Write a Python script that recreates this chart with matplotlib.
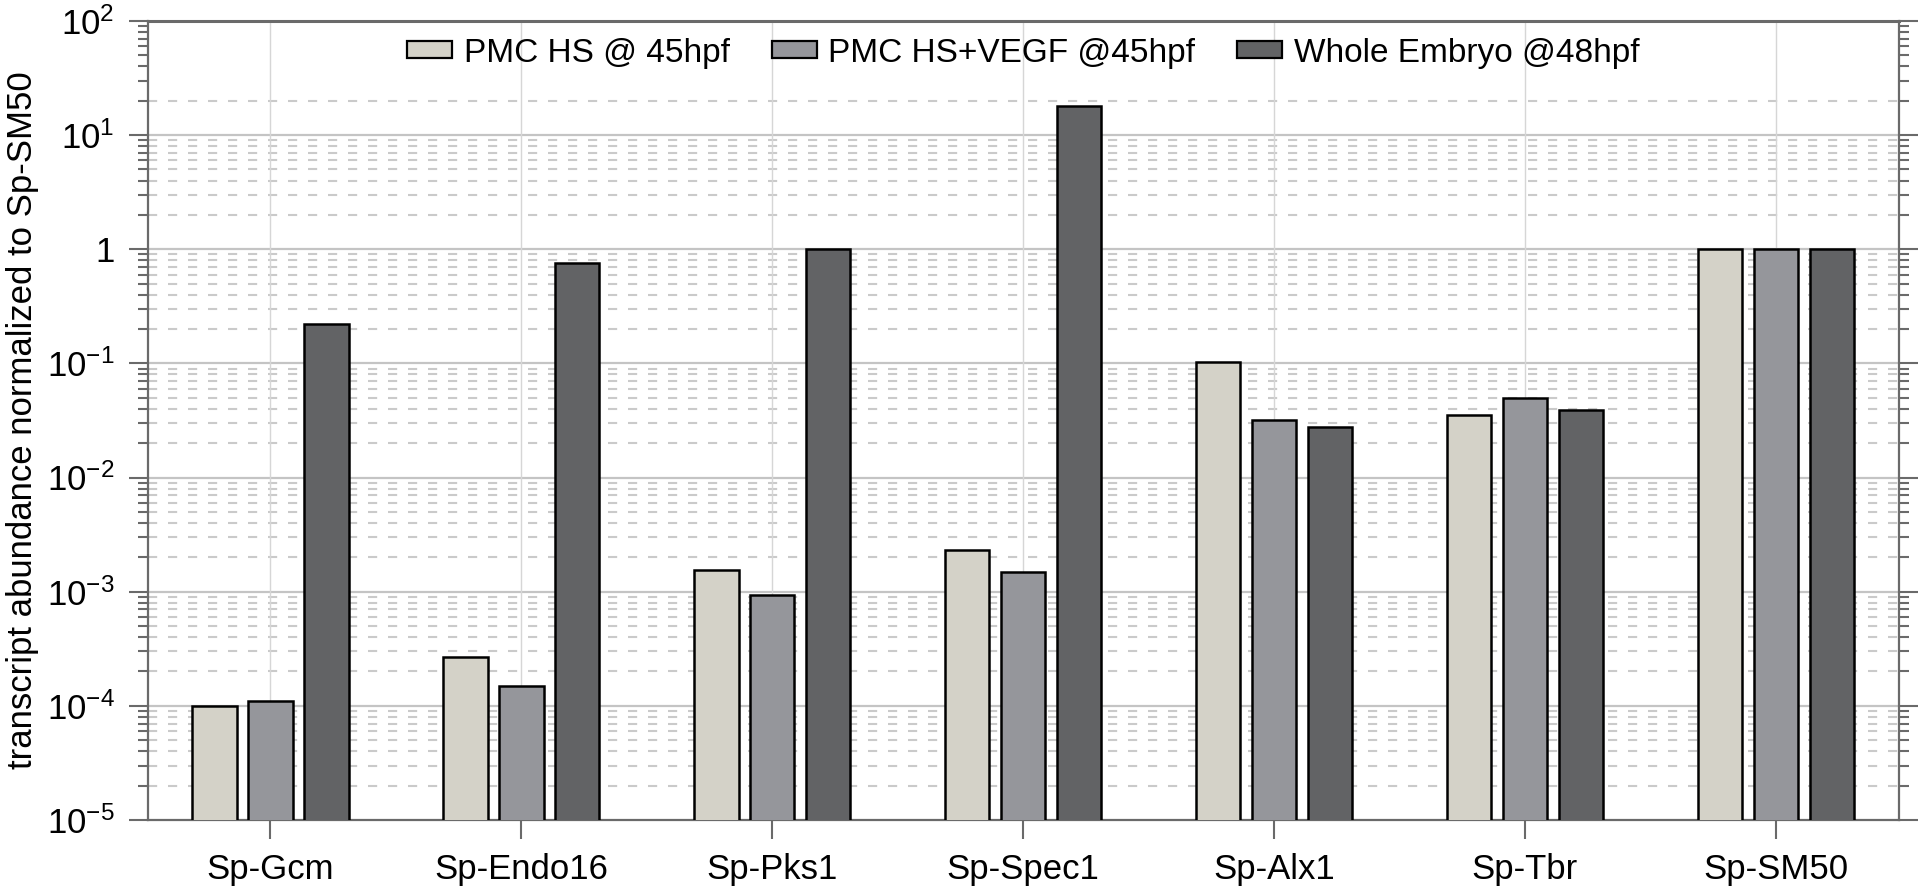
import numpy as np
import matplotlib.pyplot as plt
from matplotlib.patches import Patch
from matplotlib.ticker import LogLocator, NullFormatter

plt.rcParams['font.family'] = ['Liberation Sans', 'DejaVu Sans']
plt.rcParams['mathtext.fontset'] = 'custom'
plt.rcParams['mathtext.rm'] = 'Liberation Sans'
plt.rcParams['mathtext.it'] = 'Liberation Sans:italic'
plt.rcParams['mathtext.bf'] = 'Liberation Sans:bold'

# data
genes = ['Sp-Gcm', 'Sp-Endo16', 'Sp-Pks1', 'Sp-Spec1', 'Sp-Alx1', 'Sp-Tbr', 'Sp-SM50']
pmc_hs = [1.0e-4, 2.7e-4, 1.56e-3, 2.3e-3, 0.102, 0.035, 1.0]
pmc_hs_vegf = [1.1e-4, 1.5e-4, 0.93e-3, 1.48e-3, 0.032, 0.0497, 1.0]
whole_embryo = [0.22, 0.76, 1.0, 18.0, 0.0275, 0.0388, 1.0]
series_names = ['PMC HS @ 45hpf', 'PMC HS+VEGF @45hpf', 'Whole Embryo @48hpf']
ytick_vals = [1e-5, 1e-4, 1e-3, 1e-2, 1e-1, 1, 10, 100]
ytick_labels = [r'$\mathregular{10^{-5}}$', r'$\mathregular{10^{-4}}$', r'$\mathregular{10^{-3}}$',
                r'$\mathregular{10^{-2}}$', r'$\mathregular{10^{-1}}$', '1',
                r'$\mathregular{10^{1}}$', r'$\mathregular{10^{2}}$']

colors = ['#d4d2c8', '#95969b', '#626365']
spine_col = '#6a6a6a'

fig = plt.figure(figsize=(19.2, 8.9), dpi=100)
ax = fig.add_axes([0.0771, 0.0787, 0.9119, 0.8977])

x = np.arange(len(genes))
width = 0.178
offset = 0.223
for i, vals in enumerate([pmc_hs, pmc_hs_vegf, whole_embryo]):
    ax.bar(x + (i - 1) * offset, vals, width, color=colors[i],
           edgecolor='black', linewidth=1.8, zorder=3)

ax.set_yscale('log')
ax.set_ylim(1e-5, 100)
ax.set_xlim(-0.487, 6.49)

# grid lines
ax.set_axisbelow(True)
for v in ytick_vals[1:-1]:
    ax.axhline(v, color='#c4c4c4', lw=1.6, zorder=1)
minor_grid = [k * 10.0 ** e for e in range(-5, 1) for k in range(2, 10)] + [20]
for v in minor_grid:
    ax.axhline(v, color='#cacaca', lw=1.5, dashes=(4.4, 5.2), zorder=1)
for xi in x:
    ax.axvline(xi, color='#d6d6d6', lw=1.0, zorder=1)

ax.set_xticks(x)
ax.set_xticklabels(genes, fontsize=25)
ax.set_yticks(ytick_vals)
ax.set_yticklabels(ytick_labels, fontsize=25)
ax.yaxis.set_minor_locator(LogLocator(base=10, subs=np.arange(2, 10), numticks=20))
ax.yaxis.set_minor_formatter(NullFormatter())

ax.tick_params(axis='x', which='major', direction='out', length=14, width=1.5,
               color=spine_col, pad=10)
ax.tick_params(axis='y', which='major', direction='out', length=14, width=1.5,
               color=spine_col, pad=10, right=True)
ax.tick_params(axis='y', which='minor', direction='out', length=7, width=1.5,
               color=spine_col, right=True)

for s in ax.spines.values():
    s.set_color(spine_col)
    s.set_linewidth(1.6)
ax.spines['top'].set_linewidth(2.2)

ax.set_ylabel('transcript abundance normalized to Sp-SM50', fontsize=25)
ax.yaxis.set_label_coords(-0.0622, 0.5)

handles = [Patch(facecolor=c, edgecolor='black', linewidth=1.6) for c in colors]
ax.legend(handles, series_names, loc='upper center', bbox_to_anchor=(0.5, 1.0),
          ncol=3, frameon=False, fontsize=24, handlelength=1.35, handleheight=0.4,
          handletextpad=0.35, columnspacing=1.25, borderaxespad=0.1)

fig.savefig('out.png', dpi=100)
